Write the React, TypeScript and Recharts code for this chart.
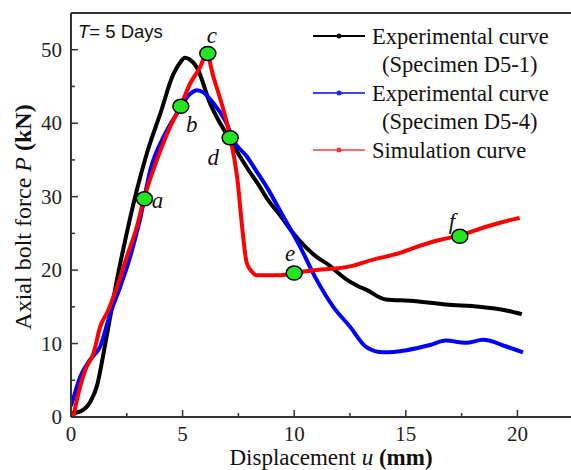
import React from 'react';
import { ComposedChart, Line, Scatter, XAxis, YAxis, ReferenceLine } from 'recharts';

// Specimen D5-1 (experimental, black)
const d51X = [0, 0.45, 0.87, 1.16, 1.46, 1.76, 2.06, 2.43, 2.95, 3.4, 4.0, 4.59, 4.9, 5.1, 5.3, 5.64, 6.23, 7.13, 7.87, 8.47, 8.77, 9.36, 9.96, 11.0, 11.45, 12.35, 12.8, 13.24, 14.1, 15.33, 16.8, 18.3, 19.5, 20.2];
const d51Y = [0.5, 0.8, 2.1, 4.2, 8.7, 13.7, 18.7, 24.1, 30.9, 35.9, 41.3, 46.7, 48.3, 48.9, 48.7, 47.6, 42.7, 37.7, 34.0, 31.3, 29.8, 27.5, 25.0, 21.8, 20.9, 18.7, 17.9, 17.3, 16.0, 15.8, 15.3, 15.0, 14.5, 14.0];

// Specimen D5-4 (experimental, blue)
const d54X = [0, 0.15, 0.42, 0.86, 1.31, 1.76, 2.2, 2.65, 3.1, 3.55, 4.14, 4.74, 5.34, 5.64, 5.93, 6.38, 6.98, 7.27, 7.87, 8.32, 8.77, 9.51, 10.26, 11.0, 11.75, 12.5, 13.24, 13.99, 15.03, 16.08, 16.8, 17.7, 18.46, 19.5, 20.25];
const d54Y = [1.5, 3.0, 5.5, 7.8, 9.6, 14.1, 17.7, 21.8, 27.0, 33.6, 38.1, 41.3, 44.0, 44.5, 44.2, 42.7, 39.9, 37.7, 35.5, 33.4, 31.3, 27.3, 23.2, 18.7, 15.0, 12.3, 9.5, 8.8, 9.1, 9.8, 10.4, 10.1, 10.5, 9.6, 8.8];

// Simulation (red)
const simX = [0.1, 0.34, 0.64, 1.01, 1.31, 1.68, 2.06, 2.5, 2.95, 3.25, 3.85, 4.44, 4.89, 5.34, 5.78, 6.08, 6.38, 6.83, 7.13, 7.45, 7.68, 7.87, 8.1, 8.3, 9.36, 10.0, 11.0, 12.5, 13.5, 14.7, 15.33, 16.5, 17.4, 18.6, 19.95, 20.1];
const simY = [0, 3.3, 6.4, 8.7, 12.3, 14.6, 17.7, 21.8, 25.9, 29.5, 35.0, 39.5, 42.2, 45.4, 47.6, 49.4, 46.3, 41.8, 38.1, 32.5, 25.5, 21.0, 19.8, 19.3, 19.3, 19.6, 20.0, 20.5, 21.4, 22.3, 23.0, 24.1, 24.7, 25.9, 27.0, 27.1];

// marked stages on the simulation curve
const stageTags = ['a', 'b', 'c', 'd', 'e', 'f'];
const stageX = [3.29, 4.92, 6.13, 7.13, 10.0, 17.42];
const stageY = [29.7, 42.3, 49.5, 38.0, 19.6, 24.6];

const xTicks = [0, 2.5, 5, 7.5, 10, 12.5, 15, 17.5, 20];
const yTicks = [0, 5, 10, 15, 20, 25, 30, 35, 40, 45, 50, 55];

const zip = (xs: number[], ys: number[]) => xs.map((x, i) => ({ x, y: ys[i] }));
const d51 = zip(d51X, d51Y);
const d54 = zip(d54X, d54Y);
const sim = zip(simX, simY);
const stages = stageTags.map((tag, i) => ({ x: stageX[i], y: stageY[i], tag }));

const serif = '"Liberation Serif", "Times New Roman", serif';
const axisColor = '#333';

// where each stage letter sits relative to its marker
const tagOffset: Record<string, [number, number]> = {
  a: [13, 9],
  b: [11, 26],
  c: [4, -10],
  d: [-17, 27],
  e: [-4, -12],
  f: [-8, -7],
};

const XTick = (props: any) => {
  const { x, y, payload } = props;
  const major = payload.value % 5 === 0;
  return (
    <g>
      <line x1={x} x2={x} y1={y} y2={y - (major ? 7 : 4)} stroke={axisColor} strokeWidth={1.5} />
      {major && (
        <text x={x} y={y + 23.5} textAnchor="middle" fontFamily={serif} fontSize={21} fill="#222">
          {payload.value}
        </text>
      )}
    </g>
  );
};

const YTick = (props: any) => {
  const { x, y, payload } = props;
  const major = payload.value % 10 === 0;
  return (
    <g>
      <line x1={x} x2={x + (major ? 7 : 4)} y1={y} y2={y} stroke={axisColor} strokeWidth={1.5} />
      {major && (
        <text x={x - 9} y={y + 7} textAnchor="end" fontFamily={serif} fontSize={21} fill="#222">
          {payload.value}
        </text>
      )}
    </g>
  );
};

const StageMark = (props: any) => {
  const { cx, cy, payload } = props;
  const [dx, dy] = tagOffset[payload.tag] || [0, 0];
  return (
    <g>
      <ellipse cx={cx} cy={cy} rx={8} ry={7} fill="#22e622" stroke="#000" strokeWidth={1.5} />
      <text x={cx + dx} y={cy + dy} textAnchor="middle" fontFamily={serif} fontStyle="italic" fontSize={23} fill="#111">
        {payload.tag}
      </text>
    </g>
  );
};

const legendRows = [
  { color: '#000', opacity: 1, lines: ['Experimental curve', '(Specimen D5-1)'], y: 36 },
  { color: '#2020ff', opacity: 0.85, lines: ['Experimental curve', '(Specimen D5-4)'], y: 93 },
  { color: '#ff3030', opacity: 0.7, lines: ['Simulation curve'], y: 150 },
];

export default function App() {
  return (
    <div style={{ position: 'absolute', left: 0, top: 0, width: 571, height: 470, background: '#fff' }}>
      <ComposedChart width={571} height={470} margin={{ top: 13, right: 0, bottom: 0, left: 0 }}>
        <XAxis
          type="number"
          dataKey="x"
          domain={[0, 22.4]}
          ticks={xTicks}
          interval={0}
          allowDataOverflow
          height={53}
          tickSize={0}
          tickMargin={0}
          tickLine={false}
          axisLine={{ stroke: axisColor, strokeWidth: 2 }}
          tick={<XTick />}
        />
        <YAxis
          type="number"
          dataKey="y"
          domain={[0, 55]}
          ticks={yTicks}
          interval={0}
          allowDataOverflow
          width={71}
          tickSize={0}
          tickMargin={0}
          tickLine={false}
          axisLine={{ stroke: axisColor, strokeWidth: 2 }}
          tick={<YTick />}
        />
        <ReferenceLine y={55} stroke={axisColor} strokeWidth={2} />
        <Line data={d51} dataKey="y" type="monotone" stroke="#000" strokeWidth={4} dot={false} activeDot={false} isAnimationActive={false} />
        <Line data={d54} dataKey="y" type="monotone" stroke="#0000ff" strokeWidth={4} dot={false} activeDot={false} isAnimationActive={false} />
        <Line data={sim} dataKey="y" type="monotone" stroke="#ff0000" strokeWidth={4} dot={false} activeDot={false} isAnimationActive={false} />
        <Scatter data={stages} dataKey="y" shape={<StageMark />} isAnimationActive={false} />
      </ComposedChart>

      <svg width={571} height={470} style={{ position: 'absolute', left: 0, top: 0, pointerEvents: 'none' }}>
        <text x={78} y={38} fontFamily='"Liberation Sans", Arial, sans-serif' fontSize={18.5} fill="#111">
          <tspan fontStyle="italic">T</tspan>= 5 Days
        </text>

        {legendRows.map((row) => (
          <g key={row.lines[1] || row.lines[0]}>
            <line x1={313} x2={365} y1={row.y} y2={row.y} stroke={row.color} strokeOpacity={row.opacity} strokeWidth={2} />
            <circle cx={339} cy={row.y} r={2.5} fill={row.color} />
            {row.lines.map((t, i) => (
              <text key={t} x={i === 0 ? 372 : 382} y={row.y + 8 + i * 28} fontFamily={serif} fontSize={22.5} fill="#111">
                {t}
              </text>
            ))}
          </g>
        ))}

        <text x={331} y={464.5} textAnchor="middle" fontFamily={serif} fontSize={23} fill="#111">
          Displacement <tspan fontStyle="italic">u</tspan> <tspan fontWeight="bold">(mm)</tspan>
        </text>
        <text x={31} y={217} textAnchor="middle" transform="rotate(-90, 31, 217)" fontFamily={serif} fontSize={24} fill="#111">
          Axial bolt force <tspan fontStyle="italic">P</tspan> <tspan fontWeight="bold">(kN)</tspan>
        </text>
      </svg>
    </div>
  );
}
